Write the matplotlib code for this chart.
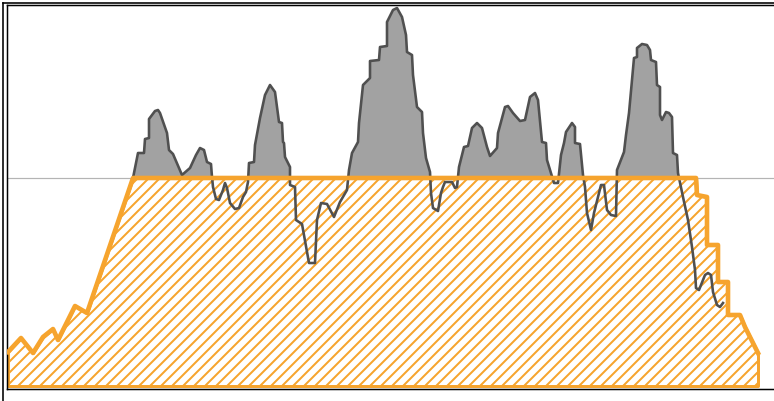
import numpy as np
import matplotlib
matplotlib.use("Agg")
import matplotlib.pyplot as plt
from matplotlib.lines import Line2D
from matplotlib.collections import LineCollection

# demand profile (grey line)
demand_t = [133, 138, 144, 145, 149, 149, 155, 158, 160, 167, 169, 173, 182, 190, 196, 200, 204, 207, 211,
            212, 213, 216, 219, 223, 225, 227, 230, 235, 239, 243, 246, 248, 249, 254, 255, 260, 265, 270,
            275, 279, 282, 283, 284, 285, 290, 290, 295, 296, 302, 304, 309, 315, 317, 321, 327, 334, 340,
            347, 349, 352, 358, 359, 363, 370, 370, 379, 380, 387, 387, 393, 397, 402, 406, 407, 412, 413,
            417, 422, 423, 426, 430, 431, 433, 438, 441, 443, 445, 452, 455, 457, 459, 464, 468, 472, 477,
            482, 487, 490, 497, 498, 505, 508, 513, 520, 525, 530, 535, 538, 542, 546, 547, 551, 554, 558,
            561, 564, 566, 572, 575, 575, 580, 583, 585, 587, 591, 594, 601, 604, 607, 611, 616, 617, 624,
            626, 629, 634, 637, 637, 642, 647, 650, 651, 656, 657, 660, 660, 662, 666, 669, 672, 673, 677,
            678, 683, 688, 692, 695, 696, 699, 705, 708, 711, 713, 717, 720, 723]
demand = [208, 233, 233, 247, 248, 267, 275, 276, 273, 253, 236, 232, 211, 218, 231, 238, 236, 224, 222,
          209, 199, 187, 186, 196, 203, 198, 183, 177, 178, 189, 194, 204, 223, 224, 241, 268, 291, 301,
          294, 264, 263, 244, 243, 229, 219, 201, 199, 166, 162, 151, 123, 123, 166, 183, 182, 169, 184,
          196, 216, 233, 244, 263, 301, 308, 325, 326, 339, 340, 364, 376, 378, 369, 351, 334, 331, 311,
          279, 274, 253, 228, 214, 193, 178, 175, 193, 199, 204, 204, 198, 199, 219, 239, 240, 258, 263,
          258, 239, 230, 238, 253, 279, 280, 273, 265, 266, 289, 293, 286, 244, 243, 226, 213, 203, 203,
          231, 243, 254, 263, 259, 243, 242, 211, 199, 173, 156, 173, 201, 201, 176, 171, 170, 216, 234,
          251, 273, 328, 329, 338, 342, 341, 336, 326, 324, 301, 299, 271, 266, 274, 273, 269, 233, 231,
          213, 189, 166, 139, 116, 98, 96, 111, 113, 111, 94, 81, 79, 83]

# supply profile (orange line + hatched area)
supply_t = [8, 21, 33, 43, 53, 58, 75, 87, 133, 696, 697, 707, 707, 718, 718, 728, 728, 740, 745, 758]
supply = [34, 48, 33, 49, 57, 46, 80, 73, 208, 208, 191, 189, 141, 141, 104, 104, 71, 71, 59, 33]

limit = 208

orange = "#F6A42E"
dpi = 66
px = 72 / dpi  # points per pixel

fig = plt.figure(figsize=(774 / dpi, 401 / dpi), dpi=dpi)
ax = fig.add_axes([7 / 774, 12.5 / 401, 775 / 774, 383.5 / 401])
ax.set_xlim(7, 782)
ax.set_ylim(-2.5, 381)

d_t = np.array(demand_t)
d = np.array(demand)

# supply area, white with orange border
area = ax.fill_between(supply_t, supply, 0, facecolor="white", edgecolor=orange,
                       linewidth=3 * px, zorder=1)

# diagonal hatch lines clipped to the supply area (1 data unit = 1 px here)
segs = [[(c, 0), (c + 400, 400)] for c in np.arange(-400, 800, 11)]
hatch = LineCollection(segs, colors=orange, linewidths=2 * px, zorder=1.5)
ax.add_collection(hatch)
hatch.set_clip_path(area.get_paths()[0], ax.transData)

# limit line
ax.axhline(limit, color="#b4b4b4", lw=1.2 * px, zorder=2)

# demand above the limit in grey
ax.fill_between(d_t, d, limit, where=d > limit, interpolate=True, color="#a2a2a2",
                linewidth=0, zorder=2)
ax.plot(d_t, d, color="#505050", lw=2.6 * px, zorder=3, solid_joinstyle="round")

# supply line on top
ax.plot(supply_t, supply, color=orange, lw=4.6 * px, zorder=4, solid_joinstyle="round")

ax.set_xticks([])
ax.set_yticks([])
for s in ["left", "top", "bottom"]:
    ax.spines[s].set_color("black")
    ax.spines[s].set_linewidth(1.5 * px)
ax.spines["right"].set_visible(False)

# outer frame of the figure
fig.add_artist(Line2D([3.5 / 774, 3.5 / 774], [0, 398.5 / 401], color="black", lw=1.6 * px,
                      transform=fig.transFigure))
fig.add_artist(Line2D([3.5 / 774, 1], [398.5 / 401, 398.5 / 401], color="black", lw=1.6 * px,
                      transform=fig.transFigure))

fig.savefig("out.png", dpi=dpi)
